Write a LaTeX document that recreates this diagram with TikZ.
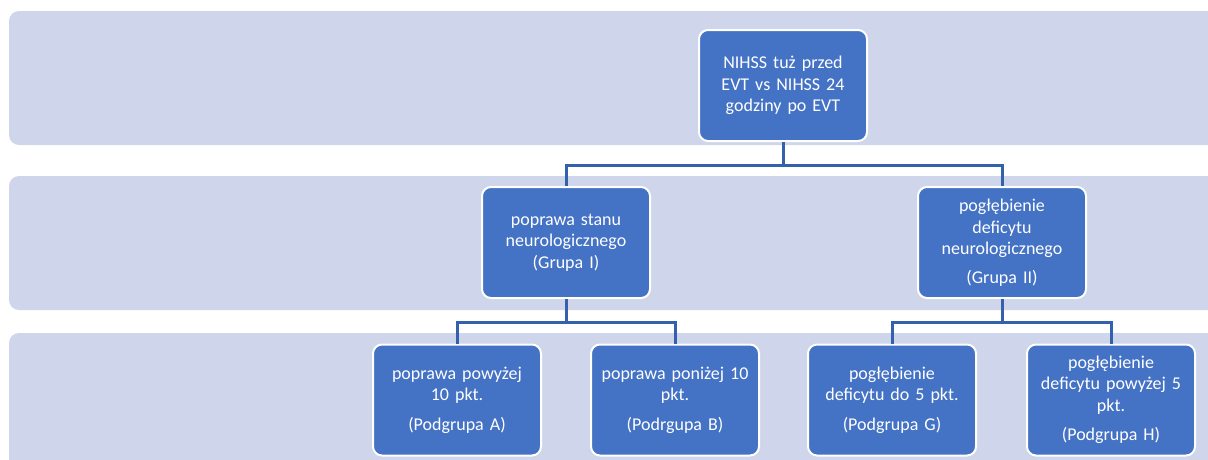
\documentclass[tikz,border=0pt]{standalone}
\usepackage{fontspec}
\setmainfont{Carlito}
\usetikzlibrary{positioning, calc}
\definecolor{bandcol}{HTML}{CFD5EA}
\definecolor{boxcol}{HTML}{4472C4}
\definecolor{linecol}{HTML}{3461AE}
\tikzset{
  band/.style={fill=bandcol, draw=none, rounded corners=10pt},
  box/.style={fill=boxcol, draw=white, line width=2pt, rounded corners=9pt,
    minimum width=168pt, minimum height=111pt, text width=152pt, align=center,
    text=white, font=\fontsize{18}{21.5}\selectfont, inner sep=0pt},
  conn/.style={draw=linecol, line width=3pt}
}
\begin{document}
\begin{tikzpicture}[x=1pt, y=-1pt]
      \useasboundingbox (0,0) rectangle (1208,459);
      \clip (0,0) rectangle (1208,459);

      \fill[band] (9,11) rectangle (1240,145);
      \fill[band] (9,176) rectangle (1240,310);
      \fill[band] (9,333) rectangle (1240,490);

      \coordinate (bus1) at (0,165);
      \coordinate (bus2) at (0,322);

      \node[box] (NIH) at (783,85.5) {NIHSS tuż przed\\EVT vs NIHSS 24\\godziny po EVT};

      \node[box] (GR1) at (566,242.5) {poprawa stanu\\neurologicznego\\(Grupa I)};
      \node[box] (GR2) at (1002,242.5) {pogłębienie\\deficytu\\neurologicznego\\[7pt](Grupa II)};

      \node[box] (PGA) at (457,400) {poprawa powyżej\\10 pkt.\\[8pt](Podgrupa A)};
      \node[box] (PGB) at (675,400) {poprawa poniżej 10\\pkt.\\[8pt](Podrgupa B)};
      \node[box] (PGG) at (892,400) {pogłębienie\\deficytu do 5 pkt.\\[8pt](Podgrupa G)};
      \node[box] (PGH) at (1111,400) {pogłębienie\\deficytu powyżej 5\\pkt.\\[8pt](Podgrupa H)};

      \draw[conn] (NIH.south) -- (NIH.south |- bus1) -| (GR1.north);
      \draw[conn] (NIH.south |- bus1) -| (GR2.north);

      \draw[conn] (GR1.south) -- (GR1.south |- bus2) -| (PGA.north);
      \draw[conn] (GR1.south |- bus2) -| (PGB.north);
      \draw[conn] (GR2.south) -- (GR2.south |- bus2) -| (PGG.north);
      \draw[conn] (GR2.south |- bus2) -| (PGH.north);
    \end{tikzpicture}
\end{document}
